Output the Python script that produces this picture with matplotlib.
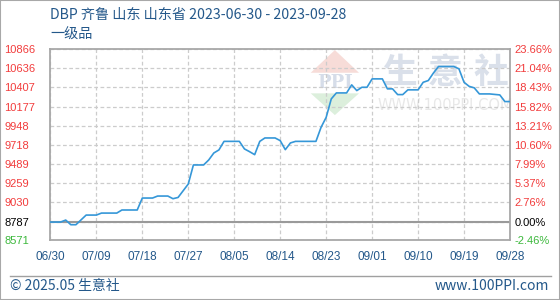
import matplotlib
matplotlib.use("Agg")
import matplotlib.pyplot as plt
import pandas as pd
import numpy as np
from matplotlib.patches import Rectangle
from matplotlib.lines import Line2D

plt.rcParams['font.family'] = ['Noto Sans CJK SC', 'DejaVu Sans']

title = "DBP 齐鲁 山东 山东省 2023-06-30 - 2023-09-28"
subtitle = "一级品"

dates = ["2023-06-30", "2023-07-02", "2023-07-03", "2023-07-04", "2023-07-05",
         "2023-07-07", "2023-07-09", "2023-07-10", "2023-07-13", "2023-07-14",
         "2023-07-17", "2023-07-18", "2023-07-20", "2023-07-21", "2023-07-23",
         "2023-07-24", "2023-07-25", "2023-07-27", "2023-07-28", "2023-07-30",
         "2023-07-31", "2023-08-01", "2023-08-02", "2023-08-03", "2023-08-06",
         "2023-08-07", "2023-08-08", "2023-08-09", "2023-08-10", "2023-08-11",
         "2023-08-13", "2023-08-14", "2023-08-15", "2023-08-16", "2023-08-17",
         "2023-08-21", "2023-08-22", "2023-08-23", "2023-08-24", "2023-08-25",
         "2023-08-27", "2023-08-28", "2023-08-29", "2023-08-30", "2023-08-31",
         "2023-09-01", "2023-09-03", "2023-09-04", "2023-09-05", "2023-09-06",
         "2023-09-07", "2023-09-08", "2023-09-10", "2023-09-11", "2023-09-12",
         "2023-09-13", "2023-09-14", "2023-09-17", "2023-09-18", "2023-09-19",
         "2023-09-20", "2023-09-21", "2023-09-22", "2023-09-24", "2023-09-26",
         "2023-09-27", "2023-09-28"]
prices = [8787, 8787, 8811, 8755, 8755,
          8871, 8871, 8895, 8895, 8932,
          8932, 9076, 9076, 9100, 9100,
          9068, 9083, 9245, 9474, 9474,
          9534, 9618, 9655, 9758, 9758,
          9667, 9634, 9598, 9758, 9799,
          9799, 9767, 9658, 9739, 9758,
          9758, 9927, 10047, 10269, 10341,
          10341, 10438, 10369, 10409, 10409,
          10510, 10510, 10390, 10390, 10321,
          10321, 10378, 10378, 10469, 10490,
          10580, 10659, 10659, 10631, 10469,
          10420, 10402, 10329, 10329, 10317,
          10237, 10237]

base_price = 8787
left_labels = ["8571", "8787", "9030", "9259", "9489", "9718", "9948",
               "10177", "10407", "10636", "10866"]
right_labels = ["-2.46%", "0.00%", "2.76%", "5.37%", "7.99%", "10.60%",
                "13.21%", "15.82%", "18.43%", "21.04%", "23.66%"]
x_labels = ["06/30", "07/09", "07/18", "07/27", "08/05", "08/14", "08/23",
            "09/01", "09/10", "09/19", "09/28"]

x = pd.to_datetime(dates)
start, end = pd.Timestamp("2023-06-30"), pd.Timestamp("2023-09-28")

fig = plt.figure(figsize=(5.6, 3.0), dpi=100)
ax = fig.add_axes([50.4/560, 60/300, 459.6/560, 190.7/300])

RED = '#f23c3c'
GREEN = '#3cb83c'
BLUE_TXT = '#24588a'

ax.plot(x, prices, color='#3597d8', lw=1.2, zorder=3)

yt = [float(s) for s in left_labels]
ax.set_ylim(yt[0], yt[-1])
ax.set_xlim(start, end)
ax.set_yticks(yt)
ax.set_yticklabels(left_labels)
xt = pd.date_range(start, end, freq='9D')
ax.set_xticks(xt)
ax.set_xticklabels(x_labels)

ax.tick_params(axis='y', length=0, pad=33, labelsize=8)
ax.tick_params(axis='x', length=0, pad=8, labelsize=8.5, labelcolor=BLUE_TXT)
for lbl in ax.get_yticklabels():
    lbl.set_ha('left')
    lbl.set_family(['Liberation Sans'])
for lbl in ax.get_xticklabels():
    lbl.set_family(['Liberation Sans'])
for i, lbl in enumerate(ax.get_yticklabels()):
    lbl.set_color(GREEN if i == 0 else ('black' if i == 1 else RED))

ax.grid(True, color='#cccccc', ls=(0, (3, 2)), lw=0.9)
ax.axhline(base_price, color='#9a9a9a', lw=1.5, zorder=2)
for s in ax.spines.values():
    s.set_color('#a8a8a8')
    s.set_linewidth(1.3)

# right percentage axis
ax2 = ax.twinx()
pct = [float(s.rstrip('%')) for s in right_labels]
ax2.set_ylim((yt[0]/base_price - 1)*100, (yt[-1]/base_price - 1)*100)
ax2.set_yticks(pct)
ax2.set_yticklabels(right_labels)
ax2.tick_params(axis='y', length=0, pad=3, labelsize=8)
for i, lbl in enumerate(ax2.get_yticklabels()):
    lbl.set_family(['Liberation Sans'])
    lbl.set_color(GREEN if i == 0 else ('black' if i == 1 else RED))
for s in ax2.spines.values():
    s.set_visible(False)

# watermark
wm_col = '#dae0ea'
for ch, cx in zip("生意社", [0.7606, 0.8577, 0.9587]):
    ax.text(cx, 0.878, ch, transform=ax.transAxes, ha='center', va='center',
            fontsize=25, fontweight='bold', color=wm_col, zorder=0.5)
ax.text(0.86, 0.703, "WWW.100PPI.COM", transform=ax.transAxes, ha='center',
        va='center', fontsize=10.5, color='#e8e8e8', family=['DejaVu Sans'],
        zorder=0.5)
ax.fill([0.5664, 0.619, 0.6715], [0.877, 0.996, 0.877], transform=ax.transAxes,
        color='#f7dcd8', lw=0, zorder=0.4)
ax.fill([0.5664, 0.619, 0.6715], [0.769, 0.655, 0.769], transform=ax.transAxes,
        color='#dcefdc', lw=0, zorder=0.4)
ax.text(0.619, 0.825, "PPI", transform=ax.transAxes, ha='center', va='center',
        fontsize=13, fontweight='bold', color='#d6dde9', family=['DejaVu Serif'],
        zorder=0.5)

# titles
fig.text(50.4/560, 1 - 15/300, title, ha='left', va='center', fontsize=10.2,
         color=BLUE_TXT)
fig.text(50.4/560, 1 - 35/300, subtitle, ha='left', va='center', fontsize=10.2,
         color=BLUE_TXT)

# footer
fig.add_artist(Line2D([10/560, 551/560], [1 - 276/300, 1 - 276/300],
                      transform=fig.transFigure, color='#a0a0a0', lw=1))
fig.text(10/560, 1 - 286/300, "© 2025.05 生意社", ha='left', va='center',
         fontsize=10, color=BLUE_TXT)
fig.text(549/560, 1 - 286/300, "www.100PPI.com", ha='right', va='center',
         fontsize=10, color=BLUE_TXT)

fig.add_artist(Rectangle((0, 0), 1, 1, transform=fig.transFigure, fill=False,
                         edgecolor='#a8a8a8', lw=1.5))

fig.savefig("out.png", dpi=100)
